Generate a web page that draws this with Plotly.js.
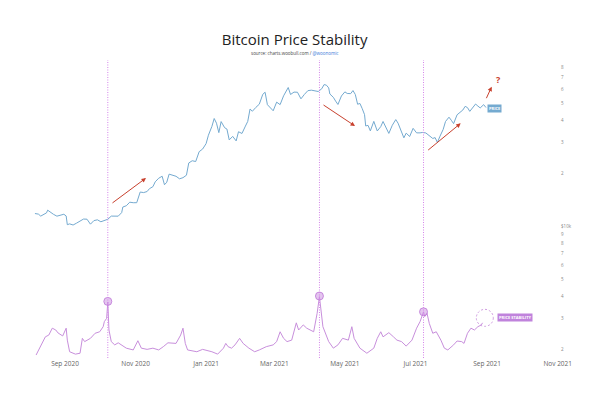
<!DOCTYPE html>
<html>
<head>
<meta charset="utf-8">
<script src="https://cdn.plot.ly/plotly-3.0.1.min.js"></script>
<style>html,body{margin:0;padding:0;background:#fff;}#chart{width:600px;height:396px;}</style>
</head>
<body>
<div id="chart"></div>
<script>
// ---- Data ----
const priceDates = ["2020-08-06","2020-08-09","2020-08-11","2020-08-13","2020-08-16","2020-08-17","2020-08-20","2020-08-22","2020-08-25","2020-08-28","2020-08-31","2020-09-02","2020-09-03","2020-09-05","2020-09-08","2020-09-11","2020-09-14","2020-09-17","2020-09-20","2020-09-23","2020-09-26","2020-09-29","2020-10-02","2020-10-05","2020-10-08","2020-10-11","2020-10-14","2020-10-17","2020-10-20","2020-10-21","2020-10-24","2020-10-27","2020-10-30","2020-11-02","2020-11-05","2020-11-08","2020-11-11","2020-11-13","2020-11-16","2020-11-18","2020-11-21","2020-11-24","2020-11-26","2020-11-28","2020-11-30","2020-12-03","2020-12-06","2020-12-09","2020-12-12","2020-12-15","2020-12-17","2020-12-20","2020-12-23","2020-12-26","2020-12-29","2021-01-01","2021-01-03","2021-01-06","2021-01-08","2021-01-10","2021-01-12","2021-01-14","2021-01-17","2021-01-19","2021-01-21","2021-01-24","2021-01-27","2021-01-29","2021-02-01","2021-02-04","2021-02-06","2021-02-08","2021-02-10","2021-02-13","2021-02-16","2021-02-19","2021-02-21","2021-02-23","2021-02-26","2021-02-28","2021-03-03","2021-03-06","2021-03-09","2021-03-13","2021-03-15","2021-03-18","2021-03-21","2021-03-24","2021-03-27","2021-03-30","2021-04-02","2021-04-05","2021-04-08","2021-04-11","2021-04-13","2021-04-15","2021-04-17","2021-04-18","2021-04-21","2021-04-23","2021-04-25","2021-04-28","2021-05-01","2021-05-03","2021-05-06","2021-05-08","2021-05-10","2021-05-12","2021-05-14","2021-05-16","2021-05-18","2021-05-19","2021-05-21","2021-05-23","2021-05-26","2021-05-29","2021-06-01","2021-06-03","2021-06-06","2021-06-08","2021-06-11","2021-06-14","2021-06-16","2021-06-18","2021-06-21","2021-06-23","2021-06-26","2021-06-29","2021-07-02","2021-07-05","2021-07-07","2021-07-10","2021-07-13","2021-07-16","2021-07-18","2021-07-20","2021-07-22","2021-07-25","2021-07-27","2021-07-30","2021-08-01","2021-08-03","2021-08-06","2021-08-08","2021-08-11","2021-08-13","2021-08-15","2021-08-17","2021-08-19","2021-08-22","2021-08-24","2021-08-26","2021-08-29","2021-08-31"];
const prices = [11770,11680,11380,11580,11870,12300,11880,11650,11370,11530,11660,11400,10170,10280,10130,10380,10690,10950,10930,10240,10730,10840,10570,10790,10920,11380,11430,11370,11910,12820,13030,13650,13560,13560,15590,15480,15700,16290,16720,17820,18680,19170,17150,17730,19700,19450,19160,18540,18810,19430,22800,23480,23240,26440,27370,29370,32780,36770,40800,38350,33920,39190,36180,35540,30830,32290,30430,34320,33540,36940,39270,46200,44850,47170,49200,55970,57540,48890,46340,45140,50540,48910,54880,61200,55870,57640,57520,52780,55920,58730,59100,58730,58080,60200,63580,63110,60900,56230,53830,51200,49010,54770,57800,56610,56480,58800,55860,49150,49670,46430,42900,37000,37300,34700,39290,34660,36690,39240,35800,33570,37340,40220,38350,35820,31680,33690,32240,35870,33810,33810,33990,33770,32700,31420,31780,29800,32110,35400,39230,41500,39880,38150,42820,43830,45590,47830,47050,44800,46700,49300,48000,46850,48900,47100];

const stabDates = ["2020-08-07","2020-08-11","2020-08-15","2020-08-18","2020-08-21","2020-08-24","2020-08-26","2020-08-30","2020-09-02","2020-09-03","2020-09-05","2020-09-10","2020-09-14","2020-09-16","2020-09-18","2020-09-23","2020-09-27","2020-10-01","2020-10-04","2020-10-05","2020-10-07","2020-10-08","2020-10-09","2020-10-11","2020-10-14","2020-10-17","2020-10-20","2020-10-24","2020-10-30","2020-11-03","2020-11-06","2020-11-11","2020-11-16","2020-11-21","2020-11-25","2020-11-29","2020-12-06","2020-12-10","2020-12-12","2020-12-14","2020-12-16","2020-12-24","2020-12-29","2021-01-06","2021-01-11","2021-01-16","2021-01-18","2021-01-20","2021-01-23","2021-01-26","2021-01-30","2021-02-02","2021-02-07","2021-02-12","2021-02-16","2021-02-22","2021-02-28","2021-03-03","2021-03-06","2021-03-09","2021-03-12","2021-03-16","2021-03-20","2021-03-22","2021-03-26","2021-03-29","2021-04-04","2021-04-07","2021-04-09","2021-04-10","2021-04-12","2021-04-17","2021-04-21","2021-04-25","2021-04-29","2021-05-04","2021-05-07","2021-05-09","2021-05-14","2021-05-20","2021-05-26","2021-05-29","2021-06-01","2021-06-03","2021-06-08","2021-06-12","2021-06-15","2021-06-19","2021-06-23","2021-06-28","2021-07-02","2021-07-05","2021-07-08","2021-07-09","2021-07-11","2021-07-13","2021-07-16","2021-07-19","2021-07-23","2021-07-26","2021-07-29","2021-08-03","2021-08-06","2021-08-10","2021-08-12","2021-08-15","2021-08-18","2021-08-21","2021-08-24","2021-08-27","2021-08-28"];
const stability = [0.10,0.38,0.71,0.77,1.00,0.94,0.84,0.74,1.00,0.60,0.21,0.13,0.16,0.66,0.55,0.66,0.83,0.88,1.05,1.22,1.33,1.88,0.94,0.55,0.44,0.51,0.44,0.33,0.27,0.58,0.33,0.29,0.33,0.27,0.38,0.51,0.49,0.77,1.00,0.49,0.27,0.21,0.29,0.21,0.13,0.33,0.49,0.38,0.33,0.44,0.66,0.49,0.33,0.21,0.27,0.38,0.44,0.55,0.88,0.66,0.55,0.60,1.18,0.94,1.11,1.00,0.88,1.50,2.06,1.72,1.05,0.55,0.33,0.44,0.66,0.60,1.05,0.66,0.33,0.16,0.33,0.66,0.88,0.71,0.85,0.71,0.60,0.55,0.40,0.60,1.00,1.22,1.55,1.39,1.50,1.16,0.83,0.88,0.60,0.33,0.27,0.44,0.57,0.55,0.49,0.83,1.00,0.94,1.05,1.11,1.18];

const peakDates = ["2020-10-08","2021-04-09","2021-07-08"];
const peakValues = [1.90,2.08,1.55];

const xTickVals = ["2020-09-01","2020-11-01","2021-01-01","2021-03-01","2021-05-01","2021-07-01","2021-09-01","2021-11-01"];
const xTickText = ["Sep 2020","Nov 2020","Jan 2021","Mar 2021","May 2021","Jul 2021","Sep 2021","Nov 2021"];
const yTickVals = [2000,3000,4000,5000,6000,7000,8000,9000,10000,20000,30000,40000,50000,60000,70000,80000];
const yTickText = ["2","3","4","5","6","7","8","9","$10k","2","3","4","5","6","7","8"];

// ---- Styles ----
const priceColor = "#74aad0";
const stabColor = "#c88fdc";
const arrowColor = "#c8412e";

const traces = [
  {x: priceDates, y: prices, type: "scatter", mode: "lines", yaxis: "y",
   line: {color: priceColor, width: 1}, hoverinfo: "skip", showlegend: false},
  {x: stabDates, y: stability, type: "scatter", mode: "lines", yaxis: "y2",
   line: {color: stabColor, width: 1}, hoverinfo: "skip", showlegend: false},
  {x: peakDates, y: peakValues, type: "scatter", mode: "markers", yaxis: "y2",
   marker: {size: 8, color: "rgba(206,150,226,0.55)", line: {color: "rgba(190,120,215,0.8)", width: 1}},
   hoverinfo: "skip", showlegend: false}
];

const shapes = peakDates.map(d => ({
  type: "line", xref: "x", yref: "paper", x0: d, x1: d, y0: 0, y1: 1,
  line: {color: "#d484ea", width: 1, dash: "1px,1.5px"}
}));
shapes.push({
  type: "circle", xref: "x", yref: "y2", xsizemode: "pixel", ysizemode: "pixel",
  xanchor: stabDates[stabDates.length - 1], yanchor: stability[stability.length - 1],
  x0: -6.2, x1: 10.8, y0: -3.5, y1: 13.5,
  line: {color: "#cf9be0", width: 1, dash: "2px,2px"}
});

function arrow(x, y, ax, ay) {
  return {xref: "paper", yref: "paper", x: x, y: y, ax: ax, ay: ay, text: "",
    showarrow: true, arrowhead: 2, arrowsize: 0.9, arrowwidth: 1, arrowcolor: arrowColor};
}

const annotations = [
  {xref: "paper", yref: "paper", x: 0.5019, y: 1.025, text: "source: charts.woobull.com / <span style='color:#3b78d8'>@woonomic</span>",
   showarrow: false, font: {family: "Open Sans", size: 4.5, color: "#444"}, xanchor: "center", yanchor: "middle"},
  arrow(0.2218, 0.604, -35, 26),
  arrow(0.6147, 0.7785, -33, -22),
  arrow(0.8133, 0.7876, -34, 28),
  arrow(0.8716, 0.9104, -6, 13),
  {xref: "paper", yref: "paper", x: 0.885, y: 0.935, text: "?", showarrow: false,
   xanchor: "center", yanchor: "middle",
   font: {family: "Open Sans", size: 9, color: arrowColor, weight: 700}},
  {xref: "x", yref: "y", x: priceDates[priceDates.length - 1], y: Math.log10(prices[prices.length - 1]),
   xshift: 1, yshift: -1, xanchor: "left", text: "PRICE", showarrow: false, bgcolor: priceColor,
   font: {family: "Open Sans", size: 4, color: "#fff", weight: 700}, borderpad: 1},
  {xref: "x", yref: "y2", x: stabDates[stabDates.length - 1], y: stability[stability.length - 1],
   xshift: 14, yshift: 5, xanchor: "left", text: "PRICE STABILITY", showarrow: false, bgcolor: "#c083dc",
   font: {family: "Open Sans", size: 4, color: "#fff", weight: 700}, borderpad: 1}
];

const layout = {
  width: 600, height: 396,
  margin: {l: 28, r: 40, t: 60, b: 38},
  paper_bgcolor: "#fff", plot_bgcolor: "#fff",
  title: {text: "Bitcoin Price Stability", x: 0.491, xanchor: "center", y: 0.9, yanchor: "middle",
    font: {family: "Open Sans", size: 15, color: "#222"}},
  xaxis: {type: "date", range: ["2020-07-31", "2021-11-03"], tickvals: xTickVals, ticktext: xTickText,
    showgrid: false, zeroline: false, showline: false, ticks: "",
    tickfont: {family: "Open Sans", size: 6.5, color: "#666"}},
  yaxis: {type: "log", side: "right", range: [3.25, 4.943], tickvals: yTickVals, ticktext: yTickText,
    showgrid: false, zeroline: false, showline: false, ticks: "",
    tickfont: {family: "Open Sans", size: 4.5, color: "#888"}},
  yaxis2: {overlaying: "y", range: [0, 10], visible: false, showgrid: false, zeroline: false},
  shapes: shapes,
  annotations: annotations,
  showlegend: false
};

Plotly.newPlot("chart", traces, layout, {displayModeBar: false, staticPlot: true});
</script>
</body>
</html>
